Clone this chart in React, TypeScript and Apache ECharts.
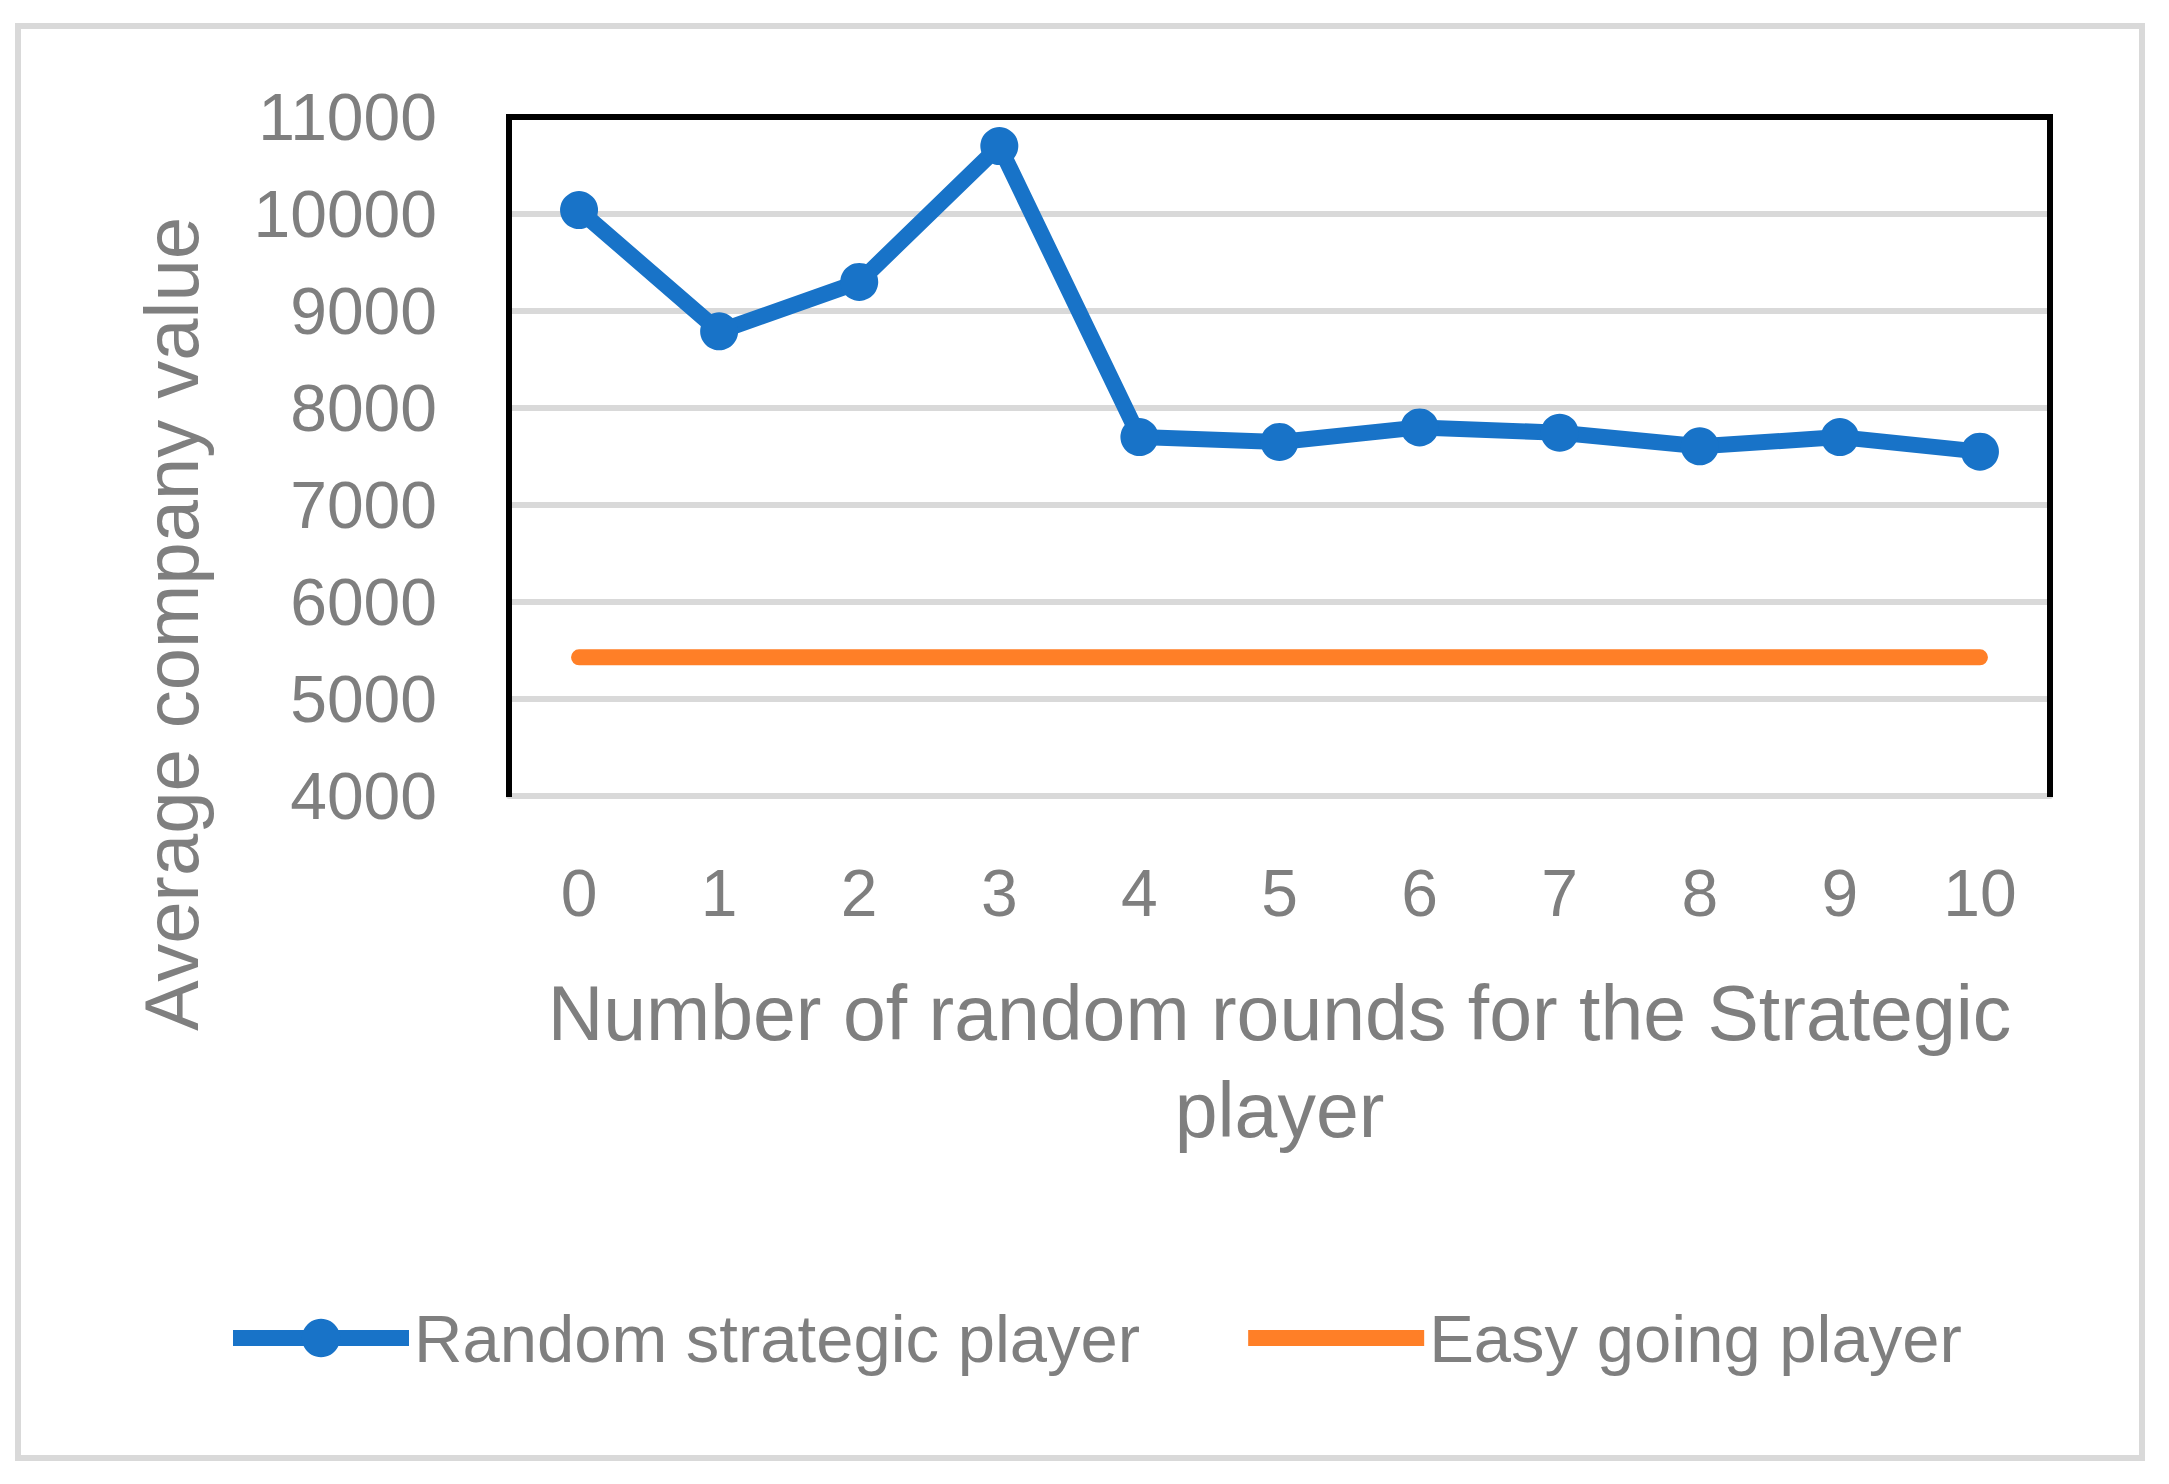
import React, { useEffect, useRef } from "react";
import * as echarts from "echarts";

const categories: string[] = ["0", "1", "2", "3", "4", "5", "6", "7", "8", "9", "10"];
const randomStrategic: number[] = [10040, 8790, 9300, 10700, 7700, 7650, 7800, 7745, 7605, 7700, 7550];
const easyGoing: number[] = [5430, 5430, 5430, 5430, 5430, 5430, 5430, 5430, 5430, 5430, 5430];
const seriesNames: string[] = ["Random strategic player", "Easy going player"];
const xTitle = "Number of random rounds for the Strategic\nplayer";
const yTitle = "Average company value";

const W = 2169;
const H = 1484;
const GL = 509, GT = 117, GR = 2050, GB = 796;
const FONT = "Liberation Sans";
const GRAY = "#7f7f7f";
const BLUE = "#1873C8";
const ORANGE = "#FF7F27";

export default function App() {
  const ref = useRef<HTMLDivElement>(null);
  useEffect(() => {
    if (!ref.current) return;
    const chart = echarts.init(ref.current, undefined, { renderer: "svg" });
    chart.setOption({
      animation: false,
      backgroundColor: "#ffffff",
      grid: { left: GL, top: GT, right: W - GR, bottom: H - GB, containLabel: false },
      xAxis: {
        type: "category",
        data: categories,
        boundaryGap: true,
        axisTick: { show: false },
        axisLine: { show: true, lineStyle: { color: "#d9d9d9", width: 6 } },
        axisLabel: { color: GRAY, fontSize: 66, fontFamily: FONT, margin: 64 },
        name: xTitle,
        nameLocation: "middle",
        nameGap: 168,
        nameTextStyle: { color: GRAY, fontSize: 77, fontFamily: FONT, lineHeight: 97, align: "center" },
      },
      yAxis: {
        type: "value",
        min: 4000,
        max: 11000,
        interval: 1000,
        axisLine: { show: false },
        axisTick: { show: false },
        axisLabel: {
          color: GRAY,
          fontSize: 66,
          fontFamily: FONT,
          margin: 72,
          formatter: (v: number) => String(v),
        },
        splitLine: { show: true, lineStyle: { color: "#d9d9d9", width: 6 } },
      },
      legend: {
        left: 225,
        top: 1299,
        padding: 0,
        itemWidth: 176,
        itemHeight: 48,
        itemGap: 100,
        textStyle: { color: GRAY, fontSize: 67, fontFamily: FONT, lineHeight: 78 },
        lineStyle: { width: 16, cap: "butt" },
        data: [
          { name: seriesNames[0] },
          { name: seriesNames[1], itemStyle: { color: "rgba(0,0,0,0)", opacity: 0 } },
        ],
      },
      graphic: [
        {
          type: "rect",
          shape: { x: 18, y: 26, width: 2124, height: 1432 },
          style: { fill: "none", stroke: "#d9d9d9", lineWidth: 6 },
          z: 0,
        },
        {
          type: "polyline",
          shape: { points: [[GL, GB + 1], [GL, GT], [GR, GT], [GR, GB + 1]] },
          style: { fill: "none", stroke: "#000000", lineWidth: 6 },
          z: 100,
        },
        {
          type: "text",
          x: 171,
          y: 624,
          rotation: Math.PI / 2,
          style: {
            text: yTitle,
            fill: GRAY,
            fontSize: 76,
            fontFamily: FONT,
            align: "center",
            verticalAlign: "middle",
          },
          z: 100,
        },
      ],
      series: [
        {
          name: seriesNames[0],
          type: "line",
          data: randomStrategic,
          symbol: "circle",
          symbolSize: 38,
          color: BLUE,
          lineStyle: { color: BLUE, width: 16, cap: "round", join: "round" },
          itemStyle: { color: BLUE },
          z: 3,
        },
        {
          name: seriesNames[1],
          type: "line",
          data: easyGoing,
          symbol: "none",
          color: ORANGE,
          lineStyle: { color: ORANGE, width: 16, cap: "round" },
          itemStyle: { color: ORANGE },
          z: 2,
        },
      ],
    });
    return () => chart.dispose();
  }, []);
  return (
    <div
      ref={ref}
      style={{ position: "absolute", left: 0, top: 0, width: W, height: H, background: "#fff" }}
    />
  );
}
